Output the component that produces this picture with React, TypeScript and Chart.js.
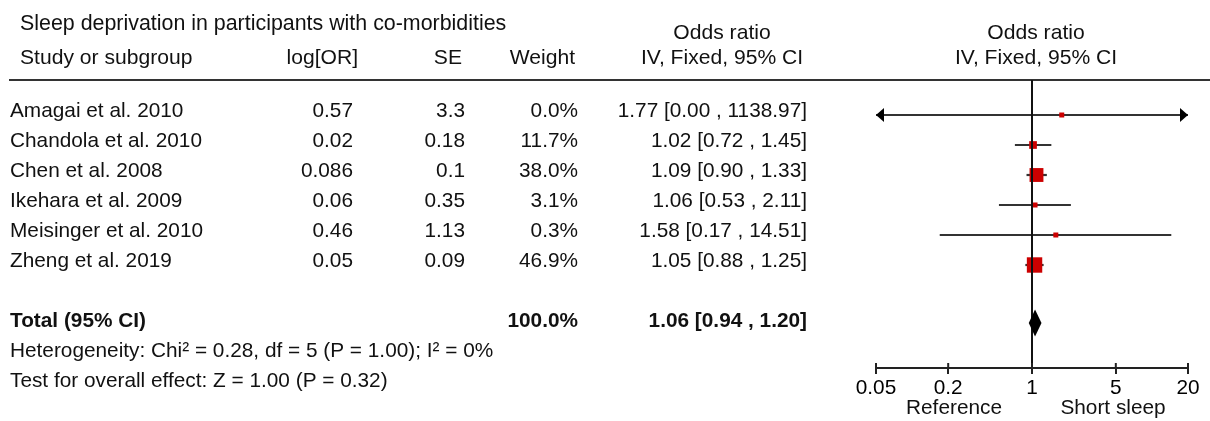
import React, { useEffect, useRef } from "react";
import { Chart, registerables } from "chart.js";

Chart.register(...registerables);

// ---------- data ----------
const studies = [
  "Amagai et al. 2010",
  "Chandola et al. 2010",
  "Chen et al. 2008",
  "Ikehara et al. 2009",
  "Meisinger et al. 2010",
  "Zheng et al. 2019",
];
const logOR = ["0.57", "0.02", "0.086", "0.06", "0.46", "0.05"];
const seValues = ["3.3", "0.18", "0.1", "0.35", "1.13", "0.09"];
const weights = [0.0, 11.7, 38.0, 3.1, 0.3, 46.9];
const oddsRatios = [1.77, 1.02, 1.09, 1.06, 1.58, 1.05];
const ciLower = [0.0, 0.72, 0.9, 0.53, 0.17, 0.88];
const ciUpper = [1138.97, 1.45, 1.33, 2.11, 14.51, 1.25];
const totalOR = 1.06;
const totalLower = 0.94;
const totalUpper = 1.2;
const totalWeight = 100.0;
const heterogeneityText = "Heterogeneity: Chi\u00B2 = 0.28, df = 5 (P = 1.00); I\u00B2 = 0%";
const overallEffectText = "Test for overall effect: Z = 1.00 (P = 0.32)";
const xTickValues = [0.05, 0.2, 1, 5, 20];
const X_MIN = 0.05;
const X_MAX = 20;

// ---------- style ----------
const FONT = "'Liberation Sans', Arial, Helvetica, sans-serif";
const FS = 20.8;
const FS_HEAD = 21.1;
const FS_TITLE = 21.4;
const TEXT = "#111";
const LINE = "#333";
const RED = "#cc0000";

const fmt2 = (v: number) => v.toFixed(2);
const ciText = (o: number, l: number, h: number) => `${fmt2(o)} [${fmt2(l)} , ${fmt2(h)}]`;

const tablePlugin = {
  id: "forestTable",
  afterDatasetsDraw(chart: any) {
    const { ctx, chartArea, scales } = chart;
    const xs = scales.x;
    const ys = scales.y;
    ctx.save();

    // header rule
    ctx.strokeStyle = "#333";
    ctx.lineWidth = 2;
    ctx.beginPath();
    ctx.moveTo(9, chartArea.top);
    ctx.lineTo(chart.width, chartArea.top);
    ctx.stroke();

    // vertical line of no effect
    const x1 = xs.getPixelForValue(1);
    ctx.strokeStyle = "#111";
    ctx.lineWidth = 2;
    ctx.beginPath();
    ctx.moveTo(x1, chartArea.top);
    ctx.lineTo(x1, chartArea.bottom);
    ctx.stroke();

    // arrowheads for truncated CIs
    ctx.fillStyle = "#000";
    studies.forEach((_, i) => {
      const y = ys.getPixelForValue(i);
      if (ciLower[i] < X_MIN) {
        const xp = xs.getPixelForValue(X_MIN);
        ctx.beginPath();
        ctx.moveTo(xp, y);
        ctx.lineTo(xp + 8, y - 7);
        ctx.lineTo(xp + 8, y + 7);
        ctx.closePath();
        ctx.fill();
      }
      if (ciUpper[i] > X_MAX) {
        const xp = xs.getPixelForValue(X_MAX);
        ctx.beginPath();
        ctx.moveTo(xp, y);
        ctx.lineTo(xp - 8, y - 7);
        ctx.lineTo(xp - 8, y + 7);
        ctx.closePath();
        ctx.fill();
      }
    });

    // diamond for pooled estimate
    const yT = ys.getPixelForValue(7) - 2;
    ctx.fillStyle = "#000";
    ctx.beginPath();
    ctx.moveTo(xs.getPixelForValue(totalLower), yT);
    ctx.lineTo(xs.getPixelForValue(totalOR), yT - 13.5);
    ctx.lineTo(xs.getPixelForValue(totalUpper), yT);
    ctx.lineTo(xs.getPixelForValue(totalOR), yT + 13.5);
    ctx.closePath();
    ctx.fill();

    // upward half of axis ticks
    ctx.strokeStyle = "#222";
    ctx.lineWidth = 2;
    xTickValues.forEach((v) => {
      const xp = xs.getPixelForValue(v);
      ctx.beginPath();
      ctx.moveTo(xp, chartArea.bottom - 5);
      ctx.lineTo(xp, chartArea.bottom);
      ctx.stroke();
    });

    // texts
    const txt = (s: string, x: number, y: number, align: CanvasTextAlign, bold = false, size = FS) => {
      ctx.font = `${bold ? "bold " : ""}${size}px ${FONT}`;
      ctx.textAlign = align;
      ctx.textBaseline = "alphabetic";
      ctx.fillStyle = TEXT;
      ctx.fillText(s, x, y);
    };

    txt("Sleep deprivation in participants with co-morbidities", 20, 30, "left", false, FS_TITLE);
    txt("Study or subgroup", 20, 64, "left", false, FS_HEAD);
    txt("log[OR]", 358, 64, "right", false, FS_HEAD);
    txt("SE", 462, 64, "right", false, FS_HEAD);
    txt("Weight", 575, 64, "right", false, FS_HEAD);
    txt("Odds ratio", 722, 39, "center", false, FS_HEAD);
    txt("IV, Fixed, 95% CI", 722, 64, "center", false, FS_HEAD);
    txt("Odds ratio", 1036, 39, "center", false, FS_HEAD);
    txt("IV, Fixed, 95% CI", 1036, 64, "center", false, FS_HEAD);

    studies.forEach((s, i) => {
      const yb = ys.getPixelForValue(i) + 2;
      txt(s, 10, yb, "left");
      txt(logOR[i], 353, yb, "right");
      txt(seValues[i], 465, yb, "right");
      txt(`${weights[i].toFixed(1)}%`, 578, yb, "right");
      txt(ciText(oddsRatios[i], ciLower[i], ciUpper[i]), 807, yb, "right");
    });

    const yTot = ys.getPixelForValue(7) + 2;
    txt("Total (95% CI)", 10, yTot, "left", true);
    txt(`${totalWeight.toFixed(1)}%`, 578, yTot, "right", true);
    txt(ciText(totalOR, totalLower, totalUpper), 807, yTot, "right", true);
    txt(heterogeneityText, 10, ys.getPixelForValue(8) + 2, "left");
    txt(overallEffectText, 10, ys.getPixelForValue(9) + 2, "left");

    // axis direction labels
    const bottomY = chartArea.bottom + 46;
    txt("Reference", xs.getPixelForValue(Math.sqrt(X_MIN * 1)), bottomY, "center");
    txt("Short sleep", xs.getPixelForValue(Math.sqrt(X_MAX * 1)) + 3, bottomY, "center");

    ctx.restore();
  },
};

export default function App() {
  const canvasRef = useRef<HTMLCanvasElement | null>(null);

  useEffect(() => {
    document.body.style.margin = "0";
    const canvas = canvasRef.current;
    if (!canvas) return;

    const ciDatasets = studies.map((s, i) => ({
      type: "line" as const,
      label: `${s} CI`,
      data: [
        { x: Math.max(ciLower[i], X_MIN), y: i },
        { x: Math.min(ciUpper[i], X_MAX), y: i },
      ],
      showLine: true,
      borderColor: LINE,
      borderWidth: 2.2,
      pointRadius: 0,
      fill: false,
      order: 2,
    }));

    const squareDataset = {
      type: "scatter" as const,
      label: "Odds ratio",
      data: oddsRatios.map((o, i) => ({ x: o, y: i })),
      pointStyle: "rect",
      pointRadius: weights.map((w) => Math.max(5, 22.5 * Math.sqrt(w / 100)) / Math.SQRT2),
      backgroundColor: RED,
      borderColor: RED,
      borderWidth: 0,
      order: 1,
    };

    const chart = new Chart(canvas, {
      type: "scatter",
      data: { datasets: [...ciDatasets, squareDataset] as any },
      options: {
        animation: false,
        responsive: true,
        maintainAspectRatio: false,
        layout: { padding: { left: 876, right: 22, top: 80, bottom: 20 } },
        plugins: { legend: { display: false }, tooltip: { enabled: false }, title: { display: false } },
        scales: {
          x: {
            type: "logarithmic",
            min: X_MIN,
            max: X_MAX,
            position: "bottom",
            afterBuildTicks: (scale: any) => {
              scale.ticks = xTickValues.map((v) => ({ value: v }));
            },
            afterFit: (scale: any) => {
              scale.height = 33;
            },
            ticks: {
              autoSkip: false,
              maxRotation: 0,
              padding: 2,
              color: "#000",
              font: { family: FONT, size: FS },
              callback: (v: any) => String(v),
            },
            grid: {
              display: true,
              drawOnChartArea: false,
              drawTicks: true,
              tickLength: 6,
              color: "#222",
              lineWidth: 2,
            },
            border: { display: true, color: "#222", width: 2 },
          },
          y: {
            type: "linear",
            display: false,
            reverse: true,
            min: -35 / 30,
            max: -35 / 30 + 288 / 30,
          },
        },
      },
      plugins: [tablePlugin],
    } as any);

    return () => chart.destroy();
  }, []);

  return (
    <div style={{ position: "relative", width: "1210px", height: "421px" }}>
      <canvas ref={canvasRef} />
    </div>
  );
}
